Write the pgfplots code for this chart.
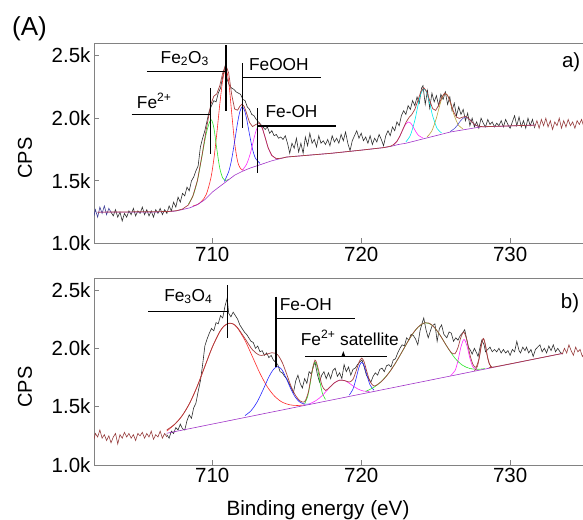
\documentclass[border=0pt]{standalone}
\usepackage{fontspec}
\setmainfont{Liberation Sans}
\usepackage{pgfplots}
\pgfplotsset{compat=1.18}
\definecolor{dat}{RGB}{45,45,45}
\definecolor{env}{RGB}{165,65,65}
\definecolor{bgc}{RGB}{160,50,200}
\definecolor{cred}{RGB}{255,40,40}
\definecolor{cgreen}{RGB}{40,230,40}
\definecolor{cblue}{RGB}{40,40,255}
\definecolor{cmag}{RGB}{255,40,255}
\definecolor{ccyan}{RGB}{0,235,235}
\definecolor{colive}{RGB}{185,165,60}
\definecolor{cnavy}{RGB}{80,80,210}
\definecolor{axgray}{RGB}{130,130,130}
\definecolor{lnavy}{RGB}{60,60,150}
\definecolor{nbrown}{RGB}{150,60,60}
\pgfplotsset{panel/.style={scale only axis, width=492pt, xmin=702.055, xmax=735.097, ymin=1.0, ymax=2.6,
  axis line style={axgray, line width=0.9pt}, tick align=inside, major tick length=5pt,
  tick style={axgray, line width=0.9pt}, xtick={710,720,730}, xticklabels={710,720,730},
  ytick={1,1.5,2,2.5}, yticklabels={1.0k,1.5k,2.0k,2.5k}, xtick pos=bottom, ytick pos=left,
  ticklabel style={font=\fontsize{20.5}{24}\selectfont},
  every axis plot/.append style={line width=0.6pt, mark=none}}}
\tikzset{ann/.style={font=\fontsize{17.3}{20}\selectfont, inner sep=0pt, anchor=base},
  mk/.style={black, line width=1.1pt}}
\begin{document}
\begin{tikzpicture}[x=1pt,y=1pt]
\useasboundingbox (0,0) rectangle (583,519);
% ---------------- top panel ----------------
\begin{axis}[panel, height=200.5pt, at={(94pt,275.5pt)}, anchor=south west]
\addplot[lnavy] coordinates {(702.05,1.22)(702.15,1.27)(702.3,1.21)(702.45,1.29)(702.6,1.24)(702.75,1.30)(702.9,1.23)(703.05,1.28)(703.2,1.25)};
\addplot[dat] coordinates {(703.2,1.25)(703.35,1.22)(703.5,1.27)(703.65,1.21)(703.8,1.25)(703.95,1.18)(704.1,1.24)(704.25,1.21)(704.4,1.26)(704.55,1.23)(704.7,1.28)(704.85,1.22)(705.0,1.26)(705.15,1.24)(705.3,1.29)(705.45,1.23)(705.6,1.27)(705.75,1.22)(705.9,1.26)(706.05,1.21)(706.2,1.27)(706.35,1.24)(706.5,1.28)(706.65,1.23)(706.8,1.27)(706.95,1.24)(707.1,1.30)(707.25,1.26)(707.4,1.33)(707.55,1.29)(707.7,1.37)(707.85,1.33)(708.0,1.40)(708.15,1.38)(708.3,1.45)(708.45,1.42)(708.6,1.50)(708.75,1.53)(708.9,1.58)(709.05,1.62)(709.2,1.77)(709.35,1.84)(709.5,1.90)(709.65,1.98)(709.8,2.06)(709.95,2.10)(710.1,2.14)(710.25,2.13)(710.4,2.20)(710.55,2.24)(710.7,2.33)(710.85,2.41)(711.0,2.31)(711.15,2.26)(711.3,2.24)(711.45,2.23)(711.6,2.21)(711.75,2.20)(711.9,2.19)(712.05,2.15)(712.2,2.14)(712.35,2.09)(712.5,2.07)(712.65,2.03)(712.8,2.02)(712.95,1.99)(713.1,1.97)(713.25,1.95)(713.4,1.93)(713.55,1.91)(713.7,1.93)(713.85,1.88)(714.0,1.90)(714.15,1.86)(714.3,1.87)(714.45,1.84)(714.6,1.85)(714.75,1.83)(714.9,1.86)(715.05,1.80)(715.2,1.72)(715.35,1.80)(715.5,1.76)(715.65,1.84)(715.8,1.73)(715.95,1.80)(716.1,1.72)(716.25,1.85)(716.4,1.78)(716.55,1.88)(716.7,1.80)(716.85,1.83)(717.0,1.77)(717.15,1.86)(717.3,1.80)(717.45,1.82)(717.6,1.79)(717.75,1.83)(717.9,1.78)(718.05,1.86)(718.2,1.81)(718.35,1.84)(718.5,1.80)(718.65,1.87)(718.8,1.82)(718.95,1.89)(719.1,1.80)(719.25,1.74)(719.4,1.82)(719.55,1.86)(719.7,1.90)(719.85,1.84)(720.0,1.88)(720.15,1.82)(720.3,1.85)(720.45,1.80)(720.6,1.86)(720.75,1.79)(720.9,1.84)(721.05,1.81)(721.2,1.87)(721.35,1.83)(721.5,1.78)(721.65,1.86)(721.8,1.90)(721.95,1.86)(722.1,1.93)(722.25,1.90)(722.4,1.97)(722.55,1.94)(722.7,2.02)(722.85,2.06)(723.0,2.03)(723.15,2.10)(723.3,2.07)(723.45,2.14)(723.6,2.10)(723.75,2.17)(723.9,2.12)(724.05,2.24)(724.15,2.26)(724.3,2.11)(724.45,2.22)(724.6,2.08)(724.75,2.20)(724.9,2.13)(725.05,2.18)(725.2,2.10)(725.35,2.19)(725.5,2.15)(725.65,2.21)(725.8,2.11)(725.95,2.17)(726.1,2.06)(726.25,2.12)(726.4,2.02)(726.55,2.09)(726.7,2.03)(726.85,2.07)(727.0,1.98)(727.15,2.04)(727.3,1.94)(727.45,2.00)(727.6,1.93)(727.75,1.97)(727.9,1.92)(728.05,2.00)(728.2,1.96)(728.35,1.93)(728.5,1.99)(728.65,1.95)(728.8,1.97)(728.95,1.93)(729.1,1.96)(729.25,1.94)(729.4,1.98)(729.55,1.93)(729.7,1.99)(729.85,1.95)(730.0,1.92)(730.15,1.97)(730.3,2.02)(730.45,1.94)(730.6,2.01)(730.75,1.93)(730.9,1.98)(731.05,1.92)(731.2,2.00)(731.35,1.94)(731.5,1.99)(731.65,1.92)};
\addplot[nbrown] coordinates {(731.65,1.93)(731.8,1.98)(731.95,1.92)(732.1,1.99)(732.25,1.94)(732.4,2.00)(732.55,1.93)(732.7,1.98)(732.85,1.91)(733.0,1.97)(733.15,1.94)(733.3,2.00)(733.45,1.92)(733.6,1.98)(733.75,1.93)(733.9,1.99)(734.05,1.94)(734.2,1.97)(734.35,1.92)(734.5,1.98)(734.65,1.95)(734.8,1.99)(734.95,1.93)};
% components
\addplot[cred, smooth] coordinates {(708.7,1.300)(709.0,1.311)(709.3,1.339)(709.6,1.393)(709.9,1.520)(710.1,1.669)(710.3,1.875)(710.5,2.108)(710.7,2.304)(710.9,2.391)(711.1,2.293)(711.3,2.044)(711.5,1.803)(711.7,1.655)(711.9,1.597)(712.1,1.586)};
\addplot[cgreen, smooth] coordinates {(708.4,1.316)(708.7,1.380)(709.0,1.502)(709.3,1.692)(709.6,1.882)(709.9,1.988)(710.1,1.925)(710.3,1.756)(710.5,1.602)(710.7,1.523)(710.9,1.503)(711.1,1.512)};
\addplot[cblue, smooth] coordinates {(710.8,1.494)(711.1,1.573)(711.3,1.672)(711.5,1.815)(711.7,1.965)(711.85,2.052)(712.0,2.090)(712.15,2.067)(712.3,1.998)(712.5,1.870)(712.7,1.753)(712.9,1.680)(713.2,1.640)};
\addplot[cmag, smooth] coordinates {(712.0,1.583)(712.3,1.632)(712.55,1.717)(712.75,1.814)(712.95,1.904)(713.15,1.946)(713.35,1.920)(713.55,1.846)(713.75,1.764)(714.0,1.702)(714.3,1.677)};
\addplot[cmag, smooth] coordinates {(722.15,1.787)(722.45,1.824)(722.65,1.870)(722.85,1.922)(723.0,1.954)(723.15,1.970)(723.3,1.963)(723.45,1.939)(723.65,1.896)(723.85,1.862)(724.15,1.842)};
\addplot[ccyan, smooth] coordinates {(723.0,1.811)(723.3,1.863)(723.6,1.982)(723.8,2.094)(724.0,2.192)(724.2,2.236)(724.4,2.204)(724.6,2.118)(724.8,2.018)(725.1,1.917)(725.4,1.883)};
\addplot[colive, smooth] coordinates {(724.43,1.852)(724.73,1.895)(725.03,1.993)(725.23,2.083)(725.43,2.163)(725.63,2.199)(725.83,2.175)(726.03,2.107)(726.23,2.027)(726.53,1.944)(726.83,1.916)};
\addplot[cnavy, smooth] coordinates {(725.97,1.893)(726.27,1.918)(726.47,1.945)(726.67,1.979)(726.97,2.009)(727.27,1.991)(727.47,1.965)(727.67,1.945)(727.97,1.933)};
% background
\addplot[bgc] coordinates {(702.3,1.25)(706,1.25)(707.0,1.255)(707.5,1.258)(708.0,1.271)(708.5,1.285)(709.0,1.31)(709.5,1.35)(710.0,1.41)(710.5,1.455)(711.0,1.50)(711.5,1.545)(712.0,1.575)(712.5,1.60)(713.0,1.62)(713.5,1.64)(714.0,1.66)(715.0,1.69)(716.0,1.70)(718.0,1.72)(720.0,1.745)(721.5,1.765)(722.0,1.775)(722.5,1.79)(723.0,1.80)(723.5,1.815)(724.0,1.83)(724.5,1.845)(725.0,1.86)(725.5,1.875)(726.0,1.89)(726.5,1.90)(727.0,1.91)(727.5,1.92)(728.0,1.93)(731.7,1.945)};
% envelope
\addplot[env, line width=0.7pt] coordinates {(702.3,1.25)(707.0,1.255)(707.6,1.262)(708.0,1.275)(708.4,1.308)(708.7,1.380)(709.0,1.502)(709.3,1.697)(709.6,1.913)(709.9,2.110)(710.1,2.175)(710.3,2.194)(710.5,2.258)(710.7,2.361)(710.9,2.426)(711.1,2.360)(711.3,2.189)(711.5,2.073)(711.7,2.064)(711.85,2.095)(712.0,2.112)(712.15,2.092)(712.3,2.040)(712.5,1.966)(712.7,1.933)(712.9,1.948)(713.15,1.963)(713.35,1.925)(713.55,1.846)(713.75,1.764)(714.0,1.702)(714.3,1.677)(714.6,1.68)(715.0,1.69)(716.0,1.70)(718.0,1.72)(720.0,1.745)(721.5,1.765)(721.8,1.772)(722.0,1.778)(722.2,1.791)(722.4,1.815)(722.6,1.858)(722.8,1.912)(723.0,1.965)(723.2,2.004)(723.4,2.030)(723.6,2.070)(723.8,2.138)(724.0,2.210)(724.2,2.243)(724.4,2.213)(724.6,2.141)(724.8,2.076)(725.0,2.062)(725.2,2.103)(725.4,2.164)(725.6,2.200)(725.8,2.183)(726.0,2.123)(726.2,2.053)(726.4,2.008)(726.6,1.998)(726.8,2.008)(727.0,2.013)(727.2,1.999)(727.4,1.974)(727.6,1.951)(727.8,1.938)(728.0,1.934)(728.2,1.932)(731.7,1.945)};
% annotations
\draw[mk] (704.59,2.026) -- (709.85,2.026); \draw[mk] (709.85,2.239) -- (709.85,1.714);
\draw[mk] (705.6,2.371) -- (710.92,2.371); \draw[mk] (710.92,2.584) -- (710.92,2.057);
\draw[mk] (712.01,2.323) -- (717.28,2.323); \draw[mk] (712.01,2.438) -- (712.01,1.919);
\draw[mk] (713.05,1.938) -- (718.31,1.938); \draw[mk] (713.05,2.079) -- (713.05,1.560);
\node[ann] at (706.1,2.08) {Fe\textsuperscript{2+}};
\node[ann] at (708.15,2.438) {Fe\textsubscript{2}O\textsubscript{3}};
\node[ann] at (714.47,2.377) {FeOOH};
\node[ann] at (715.32,2.007) {Fe-OH};
\node[ann, font=\fontsize{20.5}{24}\selectfont] at (734.1,2.406) {a)};
\end{axis}
% ---------------- bottom panel ----------------
\begin{axis}[panel, height=186.7pt, at={(94pt,54pt)}, anchor=south west]
\addplot[nbrown] coordinates {(702.05,1.22)(702.15,1.27)(702.3,1.24)(702.45,1.30)(702.6,1.23)(702.75,1.26)(702.9,1.21)(703.05,1.25)(703.2,1.19)(703.35,1.24)(703.5,1.27)(703.65,1.18)(703.8,1.26)(703.95,1.23)(704.1,1.28)(704.25,1.24)(704.4,1.27)(704.55,1.23)(704.7,1.26)(704.85,1.21)(705.0,1.27)(705.15,1.25)(705.3,1.28)(705.45,1.23)(705.6,1.27)(705.75,1.24)(705.9,1.29)(706.05,1.22)(706.2,1.26)(706.35,1.24)(706.5,1.29)(706.65,1.23)(706.8,1.27)(706.95,1.24)};
\addplot[dat] coordinates {(706.94,1.26)(707.1,1.23)(707.25,1.29)(707.4,1.27)(707.55,1.32)(707.7,1.30)(707.85,1.35)(708.0,1.31)(708.15,1.30)(708.3,1.38)(708.45,1.43)(708.6,1.40)(708.75,1.49)(708.9,1.53)(709.05,1.63)(709.2,1.72)(709.35,1.86)(709.5,2.02)(709.65,2.08)(709.8,2.13)(709.95,2.17)(710.1,2.15)(710.25,2.22)(710.4,2.21)(710.55,2.28)(710.7,2.26)(710.85,2.36)(711.0,2.43)(711.1,2.30)(711.25,2.27)(711.4,2.31)(711.55,2.28)(711.7,2.25)(711.85,2.20)(712.0,2.17)(712.15,2.14)(712.3,2.12)(712.45,2.09)(712.6,2.06)(712.75,2.05)(712.9,2.00)(713.05,2.02)(713.2,1.97)(713.35,1.98)(713.5,1.94)(713.65,1.96)(713.8,1.92)(713.95,1.94)(714.1,1.90)(714.25,1.88)(714.4,1.86)(714.55,1.80)(714.7,1.79)(714.85,1.76)(715.0,1.74)(715.15,1.70)(715.3,1.66)(715.45,1.62)(715.6,1.72)(715.75,1.77)(715.9,1.70)(716.05,1.66)(716.2,1.74)(716.35,1.70)(716.5,1.80)(716.65,1.78)(716.8,1.85)(716.9,1.88)(717.05,1.78)(717.2,1.71)(717.35,1.77)(717.5,1.80)(717.65,1.74)(717.8,1.79)(717.95,1.74)(718.1,1.81)(718.25,1.83)(718.4,1.76)(718.55,1.79)(718.7,1.74)(718.85,1.86)(719.0,1.80)(719.15,1.84)(719.3,1.77)(719.45,1.82)(719.6,1.83)(719.75,1.86)(719.9,1.88)(720.05,1.90)(720.2,1.84)(720.35,1.77)(720.5,1.74)(720.65,1.71)(720.8,1.76)(720.95,1.79)(721.1,1.77)(721.25,1.82)(721.4,1.83)(721.55,1.80)(721.7,1.85)(721.85,1.86)(722.0,1.84)(722.15,1.90)(722.3,1.91)(722.45,1.96)(722.6,2.00)(722.75,2.03)(722.9,2.02)(723.05,2.09)(723.2,2.07)(723.35,2.12)(723.5,2.11)(723.65,2.08)(723.8,2.03)(723.95,2.15)(724.1,2.22)(724.2,2.26)(724.35,2.16)(724.5,2.09)(724.6,2.13)(724.75,2.19)(724.95,2.21)(725.1,2.06)(725.25,2.17)(725.4,2.20)(725.55,2.12)(725.75,2.09)(725.9,2.14)(726.05,2.13)(726.2,2.06)(726.35,2.09)(726.5,2.07)(726.65,2.11)(726.8,2.13)(726.95,2.16)(727.1,2.07)(727.2,2.01)(727.35,1.98)(727.45,1.95)(727.6,2.00)(727.75,1.96)(727.85,1.93)(728.0,2.02)(728.1,2.07)(728.25,2.03)(728.35,1.97)(728.5,1.99)(728.65,2.01)(728.8,1.97)(728.95,1.99)(729.1,1.97)(729.25,2.00)(729.4,1.96)(729.55,1.99)(729.7,1.96)(729.85,1.98)(730.0,1.94)(730.15,1.99)(730.3,1.97)(730.45,2.06)(730.6,1.98)(730.7,1.96)(730.85,2.01)(731.0,1.98)(731.1,2.01)(731.25,1.96)(731.4,1.99)(731.55,1.93)(731.7,1.99)(731.85,2.01)(732.0,2.03)(732.15,1.97)(732.3,2.00)(732.45,1.96)(732.6,2.02)(732.75,1.98)(732.9,2.03)(733.05,1.97)(733.2,2.00)(733.35,1.97)(733.5,1.95)};
\addplot[nbrown] coordinates {(733.5,1.95)(733.65,2.00)(733.8,1.96)(733.95,2.03)(734.1,1.98)(734.25,1.94)(734.4,2.01)(734.55,1.97)(734.7,1.99)(734.85,1.93)(735.0,1.96)};
% components
\addplot[cred, smooth] coordinates {(706.94,1.29)(707.5,1.352)(708.0,1.427)(708.5,1.535)(709.0,1.678)(709.5,1.845)(710.0,2.010)(710.5,2.142)(710.8,2.192)(711.1,2.214)(711.4,2.208)(711.7,2.172)(712.2,2.066)(712.7,1.927)(713.2,1.786)(713.7,1.669)(714.2,1.587)(714.7,1.538)(715.2,1.516)(715.7,1.510)(716.2,1.515)};
\addplot[cblue, smooth] coordinates {(712.2,1.424)(712.6,1.465)(713.0,1.538)(713.4,1.642)(713.8,1.755)(714.1,1.818)(714.37,1.843)(714.65,1.821)(714.95,1.747)(715.25,1.659)(715.55,1.586)(715.85,1.542)(716.2,1.522)(716.6,1.524)};
\addplot[cgreen, smooth] coordinates {(716.2,1.525)(716.4,1.586)(716.55,1.680)(716.7,1.796)(716.8,1.855)(716.9,1.880)(717.0,1.860)(717.1,1.806)(717.25,1.698)(717.4,1.612)(717.6,1.562)};
\addplot[cmag, smooth] coordinates {(716.55,1.526)(716.95,1.551)(717.35,1.591)(717.75,1.646)(718.15,1.699)(718.55,1.727)(718.95,1.720)(719.35,1.687)(719.75,1.653)(720.15,1.634)(720.55,1.630)};
\addplot[cblue, smooth] coordinates {(719.2,1.599)(719.45,1.652)(719.65,1.738)(719.8,1.815)(719.92,1.861)(720.03,1.879)(720.14,1.867)(720.26,1.827)(720.41,1.758)(720.61,1.682)(720.86,1.641)};
\addplot[cgreen, smooth] coordinates {(720.3,1.631)(720.8,1.662)(721.3,1.710)(721.8,1.780)(722.3,1.873)(722.8,1.983)(723.3,2.093)(723.8,2.179)(724.3,2.219)(724.8,2.194)(725.3,2.112)(725.8,2.007)(726.3,1.915)(726.8,1.855)(727.3,1.827)(727.8,1.820)(728.3,1.826)};
\addplot[cmag, smooth] coordinates {(726.0,1.766)(726.3,1.809)(726.5,1.895)(726.7,2.013)(726.9,2.076)(727.1,2.023)(727.3,1.915)(727.5,1.841)(727.8,1.812)};
\addplot[nbrown, smooth] coordinates {(727.6,1.807)(727.8,1.844)(727.95,1.932)(728.1,2.046)(728.2,2.080)(728.3,2.051)(728.45,1.945)(728.6,1.865)(728.8,1.838)};
% background (linear)
\addplot[bgc] coordinates {(706.94,1.272)(733.55,1.957)};
% envelope
\addplot[env, line width=0.7pt, smooth] coordinates {(706.94,1.300)(707.5,1.352)(708.0,1.427)(708.5,1.535)(709.0,1.678)(709.5,1.845)(710.0,2.010)(710.5,2.142)(710.8,2.192)(711.1,2.214)(711.4,2.209)(711.7,2.176)(712.2,2.083)(712.7,1.987)(713.2,1.940)(713.7,1.951)(714.0,1.962)(714.37,1.947)(714.7,1.878)(715.0,1.777)(715.3,1.671)(715.6,1.594)(715.9,1.549)(716.2,1.542)(716.45,1.625)(716.65,1.769)(716.9,1.899)(717.15,1.805)(717.35,1.688)(717.6,1.639)(717.9,1.668)(718.2,1.704)(718.55,1.727)(718.9,1.723)(719.2,1.711)(719.45,1.735)(719.7,1.821)(719.85,1.880)(720.03,1.916)(720.2,1.882)(720.4,1.790)(720.6,1.714)(720.85,1.677)(721.1,1.690)(721.4,1.721)(721.7,1.763)(722.0,1.814)(722.3,1.873)(722.6,1.938)(722.9,2.006)(723.2,2.073)(723.5,2.133)(723.8,2.179)(724.05,2.206)(724.3,2.219)(724.55,2.216)(724.8,2.194)(725.05,2.158)(725.3,2.112)(725.55,2.059)(725.8,2.008)(726.05,1.963)(726.3,1.954)(726.5,2.007)(726.7,2.097)(726.9,2.138)(727.1,2.067)(727.3,1.946)(727.5,1.864)(727.7,1.837)(727.9,1.906)(728.05,2.018)(728.2,2.085)(728.35,2.024)(728.5,1.916)(728.7,1.846)(729.0,1.842)(733.55,1.957)};
% annotations
\draw[mk] (705.70,2.314) -- (711.03,2.314); \draw[mk] (711.03,2.542) -- (711.03,2.086);
\draw[mk] (714.28,2.257) -- (719.58,2.257); \draw[mk] (714.28,2.442) -- (714.28,1.842);
\draw[mk] (716.23,1.928) -- (721.71,1.928);
\fill[black] (718.66,1.928) -- (718.94,1.928) -- (718.8,1.975) -- cycle;
\node[ann] at (708.39,2.405) {Fe\textsubscript{3}O\textsubscript{4}};
\node[ann] at (716.28,2.322) {Fe-OH};
\node[ann] at (719.24,2.028) {Fe\textsuperscript{2+} satellite};
\node[ann, font=\fontsize{20.5}{24}\selectfont] at (734.02,2.337) {b)};
\end{axis}
% outer labels
\node[font=\fontsize{26}{30}\selectfont, inner sep=0pt] at (29.5,490) {(A)};
\node[font=\fontsize{20}{24}\selectfont, inner sep=0pt, rotate=90] at (25,361) {CPS};
\node[font=\fontsize{20}{24}\selectfont, inner sep=0pt, rotate=90] at (25,132) {CPS};
\node[font=\fontsize{20.7}{24}\selectfont, inner sep=0pt, anchor=base] at (318,4) {Binding energy (eV)};
\end{tikzpicture}
\end{document}
